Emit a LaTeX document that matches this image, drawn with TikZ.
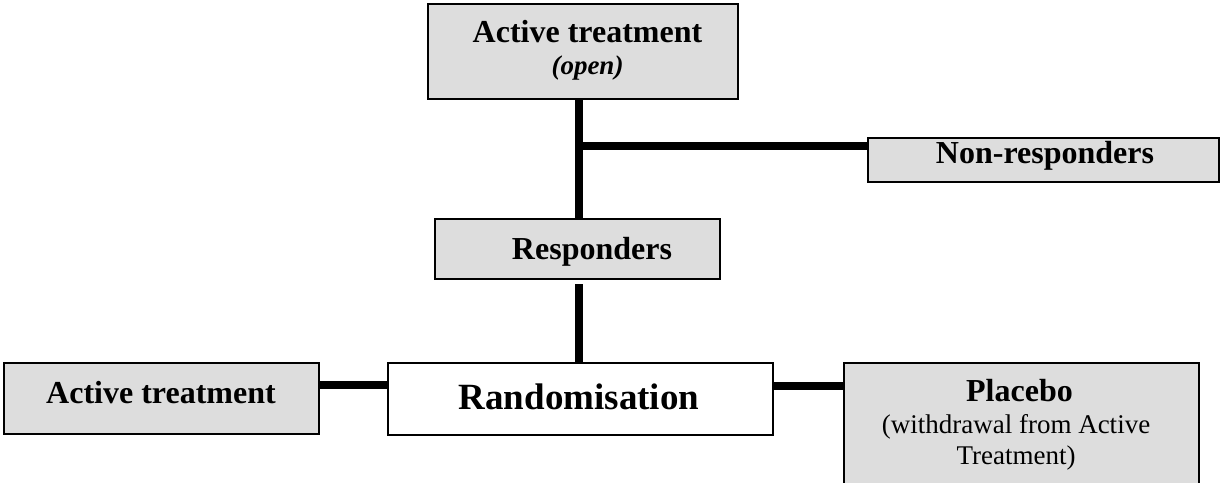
\documentclass[tikz,border=0pt]{standalone}
\usepackage{fontspec}
\setmainfont{Liberation Serif}
\definecolor{boxgray}{HTML}{DDDDDD}
\tikzset{
  box/.style={draw=black, line width=2pt, inner sep=0pt, anchor=north west},
  grey/.style={box, fill=boxgray},
  white/.style={box, fill=white},
  lbl/.style={anchor=base, inner sep=0pt, font=\fontsize{32}{38}\selectfont\bfseries},
  sub/.style={anchor=base, inner sep=0pt, font=\fontsize{27}{31.5}\selectfont},
  conn/.style={line width=8pt, black}
}
\begin{document}
\begin{tikzpicture}[x=1pt,y=-1pt]
\useasboundingbox (0,0) rectangle (1220,482);
% boxes
\node[grey, minimum width=310pt, minimum height=95pt] (top) at (427,3) {};
\node[grey, minimum width=351pt, minimum height=44pt] (non) at (867,137) {};
\node[grey, minimum width=285pt, minimum height=60pt] (resp) at (434,218) {};
\node[grey, minimum width=315pt, minimum height=71pt] (act) at (3,362) {};
\node[white, minimum width=385pt, minimum height=72pt] (rand) at (387,362) {};
\node[grey, minimum width=355pt, minimum height=125pt] (plac) at (843,362) {};
% texts
\node[lbl] (toptxt) at (587.5,42) {Active treatment};
\node[lbl, font=\fontsize{27}{31.5}\selectfont\bfseries\itshape] (opentxt) at (587.5,74) {(open)};
\node[lbl] (nontxt) at (1045,163) {Non-responders};
\node[lbl] (resptxt) at (592,259) {Responders};
\node[lbl] (acttxt) at (161,403) {Active treatment};
\node[lbl, font=\fontsize{37}{44}\selectfont\bfseries] (randtxt) at (579,409) {Randomisation};
\node[lbl] (plactxt) at (1019.5,401) {Placebo};
\node[sub, anchor=north, align=center] (placsub) at (1016,414) {(withdrawal from Active\\Treatment)};
% connectors
\coordinate (j) at (579,146);
\coordinate (yl) at (0,385);
\coordinate (yr) at (0,386);
\draw[conn] (top.south -| j) -- (resp.north -| j);
\draw[conn] (j) -- (non.west |- j);
\draw[conn] ([yshift=-4pt]resp.south -| j) -- (rand.north -| j);
\draw[conn] (act.east |- yl) -- (rand.west |- yl);
\draw[conn] (rand.east |- yr) -- (plac.west |- yr);
\end{tikzpicture}
\end{document}
